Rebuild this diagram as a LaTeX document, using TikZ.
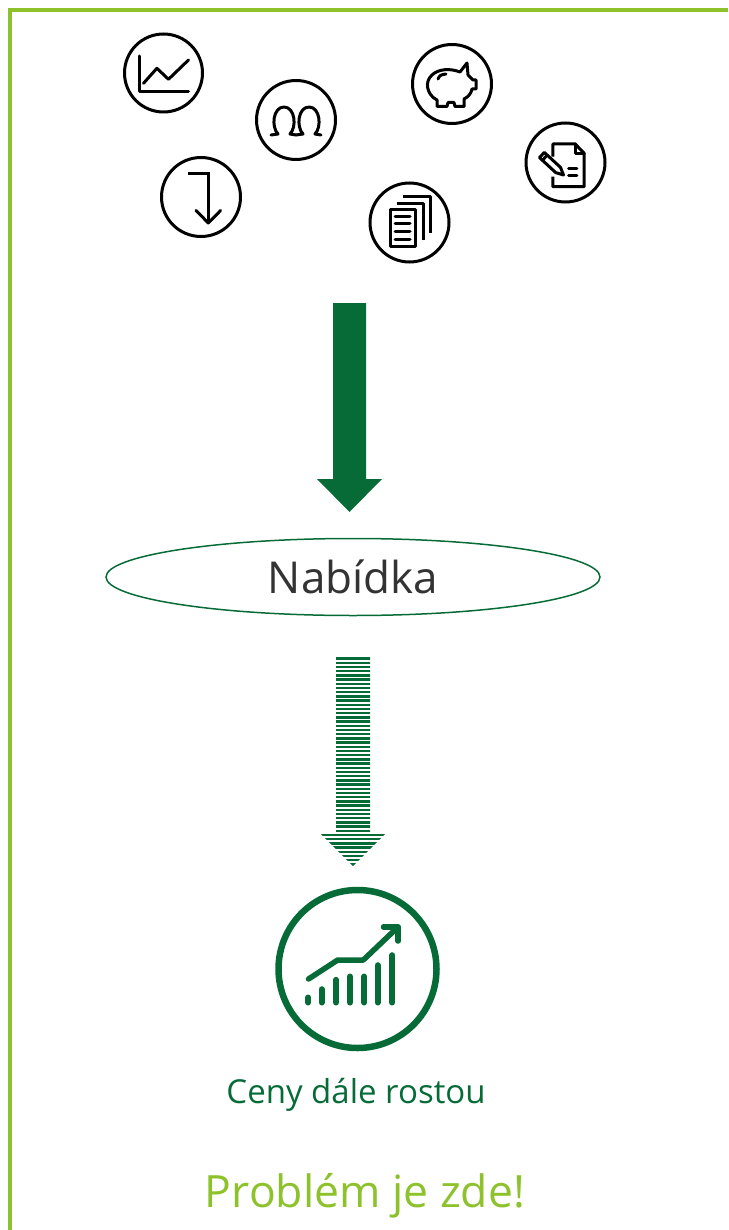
\documentclass[tikz,border=0pt]{standalone}
\usepackage{fontspec}
\setmainfont{Open Sans}
\usepackage{tikz}
\usetikzlibrary{shapes.geometric}
\definecolor{darkgreen}{RGB}{7,107,56}
\definecolor{limegreen}{RGB}{141,194,45}
\definecolor{textgray}{RGB}{51,51,51}
\begin{document}
\begin{tikzpicture}[x=1pt,y=-1pt]
    \tikzstyle{icon}=[circle,draw,line width=3pt,minimum size=79pt,inner sep=0pt]
    \tikzstyle{glyph}=[line width=3pt,line cap=round,line join=round]
    \tikzstyle{bar}=[darkgreen,line width=6pt,line cap=round]
    \useasboundingbox (0,0) rectangle (728,1230);
    \draw [limegreen,line width=4pt] (9.5,1230) -- (9.5,10) -- (728,10);
    \node (chart) at (163.5,73) [icon,minimum size=78pt] {};
    \node (people) at (296,120) [icon] {};
    \node (down) at (201,197) [icon] {};
    \node (piggy) at (452,84) [icon] {};
    \node (note) at (565.5,162.5) [icon] {};
    \node (docs) at (409.5,222.5) [icon] {};
    \begin{scope}[shift={(chart.center)}]
        \draw [glyph] (-24,-17) -- (-24,18.7) -- (25,18.7);
        \draw [glyph] (-20,10.3) -- (-6.6,-4.7) -- (5,6.3) -- (25,-13);
    \end{scope}
    \begin{scope}[shift={(people.center)}]
        \foreach \cx in {-12,13}
            \draw [glyph] (\cx-13,15) -- (\cx-6,14) .. controls (\cx-13,7) and (\cx-11,-13) .. (\cx,-13)
                .. controls (\cx+11,-13) and (\cx+13,7) .. (\cx+6,14) -- (\cx+12,15);
    \end{scope}
    \begin{scope}[shift={(down.center)}]
        \draw [glyph,line cap=butt,line join=miter] (-12.7,-23) -- (7.3,-23) -- (7.3,26);
        \draw [glyph] (-5,13.5) -- (7.3,26) -- (19.6,13.5);
    \end{scope}
    \begin{scope}[shift={(piggy.center)}]
        \draw [glyph] (-15,22.5) -- (-15,16) .. controls (-25,11) and (-28,-2) .. (-20,-9)
            .. controls (-14,-15) and (-2,-16) .. (8,-12) -- (15,-21) -- (16,-9)
            .. controls (18,-7) and (20,-5) .. (21,-4) -- (24,-4) -- (24,5) -- (20,5)
            .. controls (19,10) and (16,13) .. (12,15) -- (12,22.5) -- (3,22.5) -- (2,18.5)
            -- (-4,18.5) -- (-5,22.5) -- cycle;
        \draw [glyph] (-14,-5) .. controls (-12,-9) .. (-6,-10);
    \end{scope}
    \begin{scope}[shift={(note.center)}]
        \draw [glyph,line cap=butt] (-12.6,-5.8) -- (-12.6,-18.5) -- (9.7,-18.5) -- (18.7,-9.2)
            -- (18.7,24.2) -- (-12.6,24.2) -- (-12.6,14.2);
        \draw [glyph] (9.7,-18.5) -- (9.7,-9.2) -- (18.7,-9.2);
        \draw [glyph] (3,5.8) -- (11.4,5.8);
        \draw [glyph] (3,13.5) -- (11.4,13.5);
        \draw [glyph] (-21.2,-10.1) -- (-26,-4.9) -- (-9.8,10.1) -- (-2,12.5) -- (-5,4.9) -- cycle;
        \draw [glyph] (-23,-2.2) -- (-18.3,-7.4);
    \end{scope}
    \begin{scope}[shift={(docs.center)}]
        \draw [glyph] (-19.5,-12.5) rectangle (5.5,24.2);
        \foreach \ly in {-5.8,1.5,9.2,16.8}
            \draw [glyph] (-14.5,\ly) -- (0.5,\ly);
        \draw [glyph,line cap=butt] (-12.8,-19.2) -- (13.8,-19.2) -- (13.8,17.5);
        \draw [glyph,line cap=butt] (-6.2,-25.8) -- (20.5,-25.8) -- (20.5,10.8);
    \end{scope}
    \fill [darkgreen] (333,303) -- (366,303) -- (366,479) -- (382,479) -- (349.5,512)
        -- (317,479) -- (333,479) -- cycle;
    \node (supply) at (353,577) [ellipse,draw=darkgreen,line width=1.5pt,minimum width=494pt,
        minimum height=77pt,inner sep=0pt,text=textgray,font=\fontsize{44}{50}\selectfont] {Nab\'idka};
    \begin{scope}
        \clip (336,657) -- (370,657) -- (370,833) -- (386,833) -- (353,866) -- (320,833)
            -- (336,833) -- cycle;
        \foreach \yy in {658.5,662.7,...,868}
            \draw [darkgreen,line width=2.4pt] (315,\yy) -- (391,\yy);
    \end{scope}
    \node (rise) at (357.5,969) [circle,draw=darkgreen,line width=6.5pt,minimum size=158pt] {};
    \begin{scope}[shift={(rise.center)}]
        \foreach \bx/\by in {-49.2/28.5,-35.8/20.2,-21.5/10.8,-7.5/7.5,6.8/7.5,20.2/-3.8,34.8/-13.8}
            \draw [bar] (\bx,33.5) -- (\bx,\by);
        \draw [darkgreen,line width=5.5pt,line cap=round,line join=round] (-49,10) -- (-19.8,-9)
            -- (5.8,-9) -- (40.5,-42);
        \draw [darkgreen,line width=5.5pt,line cap=round,line join=round] (26,-42) -- (40.5,-42)
            -- (40.5,-28);
    \end{scope}
    \node (risetext) at (356,1103) [anchor=base,text=darkgreen,font=\fontsize{33}{40}\selectfont]
        {Ceny d\'ale rostou};
    \node (problem) at (365,1207) [anchor=base,text=limegreen,font=\fontsize{44.5}{52}\selectfont]
        {Probl\'em je zde!};
\end{tikzpicture}
\end{document}
